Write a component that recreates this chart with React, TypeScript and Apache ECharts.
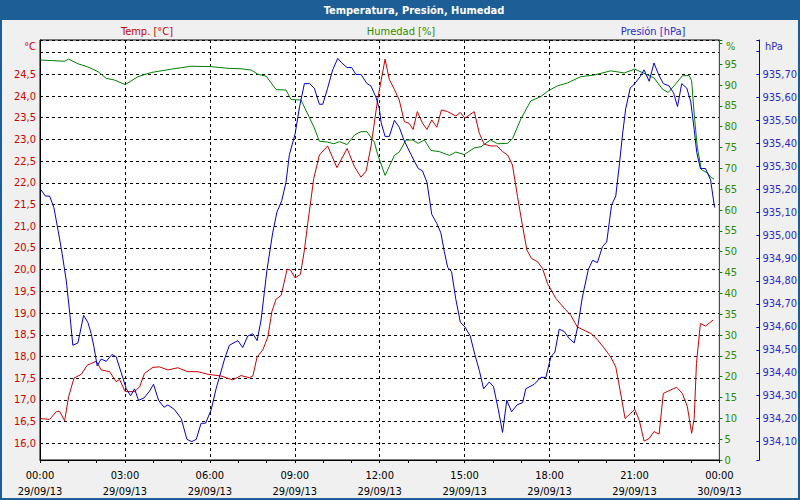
import React, { useEffect, useRef } from "react";
import * as echarts from "echarts";

const tempHours = [0.02,0.34,0.58,0.69,0.87,1.01,1.2,1.46,1.67,1.99,2.16,2.46,2.69,2.81,3.01,3.34,3.52,3.69,3.99,4.22,4.52,4.87,5.22,5.58,5.93,6.4,6.81,7.1,7.4,7.52,7.67,7.87,8.05,8.19,8.34,8.52,8.73,8.85,9.01,9.2,9.34,9.46,9.67,9.87,10.16,10.49,10.85,11.11,11.34,11.52,11.69,11.93,12.19,12.34,12.52,12.69,12.87,13.04,13.18,13.33,13.51,13.67,13.84,14.02,14.18,14.4,14.69,14.85,15.01,15.34,15.52,15.69,15.93,16.14,16.34,16.52,16.69,16.87,17.05,17.2,17.36,17.58,17.75,17.93,18.22,18.52,18.75,18.98,19.46,19.69,19.93,20.16,20.34,20.49,20.67,21.01,21.17,21.34,21.52,21.69,21.87,22.02,22.28,22.49,22.69,22.87,23.02,23.11,23.19,23.33,23.51,23.78];
const tempValues = [16.57,16.55,16.73,16.74,16.52,17.07,17.5,17.59,17.8,17.89,17.69,17.65,17.42,17.47,17.19,17.19,17.3,17.61,17.75,17.76,17.69,17.74,17.65,17.65,17.59,17.55,17.46,17.56,17.51,17.55,17.99,18.15,18.45,19.03,19.32,19.41,20.01,19.99,19.81,19.89,20.45,21.07,22.1,22.64,22.85,22.35,22.79,22.37,22.13,22.27,22.83,23.93,24.85,24.38,24.15,23.91,23.41,23.37,23.23,23.64,23.38,23.23,23.45,23.28,23.68,23.64,23.54,23.62,23.49,23.64,23.14,22.89,22.85,22.85,22.72,22.64,22.41,21.68,20.99,20.45,20.26,20.18,20.03,19.68,19.34,19.11,18.95,18.68,18.53,18.39,18.19,17.99,17.76,17.23,16.57,16.78,16.53,16.05,16.11,16.27,16.21,17.15,17.23,17.29,17.15,16.84,16.23,16.57,17.84,18.76,18.7,18.84];

const humHours = [0.02,0.87,1.01,1.34,1.69,2.05,2.34,2.63,3.01,3.46,3.93,4.64,5.34,6.05,6.64,7.1,7.46,7.69,7.99,8.34,8.69,8.87,9.22,9.46,9.69,9.87,10.16,10.38,10.58,10.85,11.11,11.34,11.55,11.81,11.93,12.19,12.52,12.69,12.93,13.16,13.36,13.58,13.81,14.11,14.46,14.69,14.99,15.34,15.58,15.91,16.17,16.52,16.69,16.99,17.34,17.69,17.93,18.28,18.64,19.1,19.58,20.16,20.64,21.01,21.34,21.69,21.99,22.19,22.4,22.69,22.93,23.02,23.11,23.22,23.36,23.58,23.69,23.81];
const humValues = [96.0,95.7,96.2,95.1,94.35,93.2,91.6,91.2,90.1,92.0,93.0,93.8,94.5,94.4,94.0,93.9,93.6,92.6,92.1,88.9,88.8,86.5,86.4,83.0,79.7,76.5,76.3,75.9,76.4,75.7,78.0,78.8,78.8,76.3,73.3,68.3,73.1,73.9,76.8,76.8,76.0,76.8,74.3,74.0,73.1,73.9,73.3,74.9,75.2,76.8,75.9,76.0,77.1,81.9,86.2,87.2,88.5,89.8,90.5,92.0,92.4,93.4,92.9,93.8,92.8,91.7,89.0,88.2,89.8,92.2,92.3,91.0,83.0,75.1,69.7,68.9,67.9,67.4];

const presHours = [0.02,0.19,0.34,0.49,0.64,0.78,0.93,1.05,1.16,1.34,1.54,1.69,1.81,1.91,2.02,2.16,2.34,2.54,2.69,2.87,3.05,3.2,3.34,3.48,3.67,3.87,4.01,4.19,4.38,4.52,4.75,4.99,5.19,5.36,5.52,5.69,5.85,6.05,6.22,6.52,6.69,6.99,7.16,7.34,7.52,7.67,7.81,8.02,8.22,8.37,8.54,8.69,8.81,9.01,9.17,9.34,9.52,9.69,9.87,9.99,10.16,10.34,10.52,10.66,10.85,11.01,11.16,11.34,11.55,11.69,11.87,11.99,12.05,12.19,12.34,12.52,12.69,12.87,13.11,13.36,13.51,13.67,13.84,14.02,14.16,14.28,14.4,14.54,14.69,14.85,15.01,15.2,15.36,15.52,15.67,15.87,16.02,16.19,16.34,16.49,16.66,16.85,17.05,17.16,17.46,17.69,17.87,18.05,18.19,18.34,18.52,18.69,18.87,19.01,19.16,19.37,19.52,19.69,19.87,20.02,20.19,20.34,20.46,20.58,20.69,20.85,21.01,21.2,21.34,21.52,21.69,21.85,22.02,22.22,22.38,22.52,22.67,22.85,22.99,23.11,23.2,23.33,23.51,23.69,23.83];
const presValues = [935.2,935.17,935.17,935.12,935.02,934.92,934.8,934.66,934.52,934.53,934.65,934.62,934.57,934.51,934.43,934.46,934.45,934.48,934.47,934.4,934.33,934.3,934.33,934.28,934.29,934.32,934.35,934.28,934.25,934.26,934.24,934.2,934.11,934.1,934.11,934.18,934.18,934.24,934.33,934.46,934.52,934.54,934.51,934.56,934.57,934.54,934.63,934.85,935.01,935.1,935.15,935.23,935.35,935.44,935.56,935.66,935.66,935.64,935.57,935.57,935.64,935.72,935.77,935.75,935.73,935.73,935.7,935.7,935.66,935.65,935.6,935.55,935.49,935.43,935.43,935.5,935.47,935.41,935.35,935.29,935.28,935.23,935.09,935.05,935.01,934.93,934.86,934.84,934.72,934.62,934.6,934.56,934.48,934.41,934.33,934.36,934.34,934.24,934.14,934.28,934.23,934.26,934.27,934.33,934.35,934.38,934.38,934.47,934.49,934.59,934.58,934.55,934.53,934.61,934.73,934.85,934.89,934.88,934.95,934.97,935.13,935.17,935.3,935.44,935.55,935.64,935.66,935.69,935.72,935.67,935.75,935.7,935.66,935.65,935.62,935.56,935.66,935.64,935.58,935.46,935.36,935.29,935.29,935.24,935.12];

const title = "Temperatura, Presión, Humedad";
const seriesNames = ["Temp. [°C]", "Humedad [%]", "Presión [hPa]"];
const unitNames = ["°C", "%", "hPa"];
const xTickHours = [0, 3, 6, 9, 12, 15, 18, 21, 24];

const FONT = "'DejaVu Sans Condensed', 'Liberation Sans', sans-serif";
const RED = "#cc0000";
const GREEN = "#008000";
const GREEN_TXT = "#2e8b00";
const BLUE = "#0000cc";
const BLUE_TXT = "#2a2acc";
const BAR = "#1e5e97";

const pairs = (xs: number[], ys: number[]) => xs.map((x, i) => [x, ys[i]]);
const pad = (n: number) => (n < 10 ? "0" + n : "" + n);

export default function App() {
  const ref = useRef<HTMLDivElement>(null);
  useEffect(() => {
    if (!ref.current) return;
    const chart = echarts.init(ref.current, null, { renderer: "svg" });
    chart.setOption({
      animation: false,
      backgroundColor: "#f0f0f0",
      textStyle: { fontFamily: FONT, fontSize: 11 },
      grid: {
        left: 40, right: 80, top: 40, bottom: 40,
        show: true, backgroundColor: "#ffffff", borderColor: "#000", borderWidth: 1,
      },
      graphic: [
        { type: "rect", shape: { x: 0, y: 0, width: 800, height: 20 }, style: { fill: BAR }, silent: true },
        { type: "rect", shape: { x: 1, y: 1, width: 798, height: 498 }, style: { fill: "none", stroke: BAR, lineWidth: 2 }, silent: true },
        { type: "text", x: 414, y: 10, style: { text: title, fill: "#fff", font: `bold 11px ${FONT}`, textAlign: "center", textVerticalAlign: "middle" } },
        { type: "text", x: 147, y: 31, style: { text: seriesNames[0], fill: RED, font: `11px ${FONT}`, textAlign: "center", textVerticalAlign: "middle" } },
        { type: "text", x: 401, y: 31, style: { text: seriesNames[1], fill: GREEN_TXT, font: `11px ${FONT}`, textAlign: "center", textVerticalAlign: "middle" } },
        { type: "text", x: 653, y: 31, style: { text: seriesNames[2], fill: BLUE_TXT, font: `11px ${FONT}`, textAlign: "center", textVerticalAlign: "middle" } },
        { type: "text", x: 36, y: 46, style: { text: unitNames[0], fill: RED, font: `11px ${FONT}`, textAlign: "right", textVerticalAlign: "middle" } },
        { type: "text", x: 726, y: 46, style: { text: unitNames[1], fill: GREEN_TXT, font: `11px ${FONT}`, textAlign: "left", textVerticalAlign: "middle" } },
        { type: "text", x: 765, y: 46, style: { text: unitNames[2], fill: BLUE_TXT, font: `11px ${FONT}`, textAlign: "left", textVerticalAlign: "middle" } },
      ],
      xAxis: {
        type: "value", min: 0, max: 24, interval: 3,
        axisLine: { show: true, lineStyle: { color: "#000", width: 1 } },
        axisTick: { show: true, length: 3, lineStyle: { color: "#000" } },
        minorTick: { show: true, splitNumber: 3, length: 3, lineStyle: { color: "#000" } },
        splitLine: { show: true, lineStyle: { color: "#000", type: [3, 3], width: 1 } },
        axisLabel: {
          color: "#000", fontSize: 11, lineHeight: 16, margin: 7,
          formatter: (v: number) => {
            const h = xTickHours.indexOf(v) >= 0 ? v : Math.round(v);
            return `${pad(h % 24)}:00\n${h >= 24 ? "30/09/13" : "29/09/13"}`;
          },
        },
      },
      yAxis: [
        {
          type: "value", position: "left", min: 15.615, max: 25.29, splitNumber: 19,
          axisLine: { show: true, lineStyle: { color: "#000" } },
          axisTick: { show: false },
          axisLabel: {
            color: RED, fontSize: 11, margin: 4,
            formatter: (v: number) => (v > 24.75 || v < 15.9 ? "" : v.toFixed(1).replace(".", ",")),
          },
          splitLine: { show: true, lineStyle: { color: "#000", type: [3, 3], width: 1 } },
        },
        {
          type: "value", position: "right", offset: 0, min: 0, max: 100.8, interval: 5,
          axisLine: { show: true, lineStyle: { color: GREEN } },
          axisTick: { show: true, length: 3, lineStyle: { color: GREEN } },
          axisLabel: {
            color: GREEN_TXT, fontSize: 11, margin: 5,
            formatter: (v: number) => (v > 95.5 ? "" : String(Math.round(v))),
          },
          splitLine: { show: false },
        },
        {
          type: "value", position: "right", offset: 40, min: 934.02, max: 935.85, splitNumber: 18,
          axisLine: { show: true, lineStyle: { color: BLUE } },
          axisTick: { show: true, inside: true, length: 3, lineStyle: { color: BLUE } },
          axisLabel: {
            color: BLUE_TXT, fontSize: 11, margin: 3,
            formatter: (v: number) => (v > 935.75 || v < 934.05 ? "" : v.toFixed(2).replace(".", ",")),
          },
          splitLine: { show: false },
        },
      ],
      series: [
        {
          name: seriesNames[1], type: "line", yAxisIndex: 1, data: pairs(humHours, humValues),
          showSymbol: false, lineStyle: { color: GREEN, width: 1 }, itemStyle: { color: GREEN },
        },
        {
          name: seriesNames[0], type: "line", yAxisIndex: 0, data: pairs(tempHours, tempValues),
          showSymbol: false, lineStyle: { color: RED, width: 1 }, itemStyle: { color: RED },
        },
        {
          name: seriesNames[2], type: "line", yAxisIndex: 2, data: pairs(presHours, presValues),
          showSymbol: false, lineStyle: { color: BLUE, width: 1 }, itemStyle: { color: BLUE },
        },
      ],
    });
    return () => chart.dispose();
  }, []);
  return (
    <div
      ref={ref}
      style={{ position: "fixed", left: 0, top: 0, width: 800, height: 500 }}
    />
  );
}
